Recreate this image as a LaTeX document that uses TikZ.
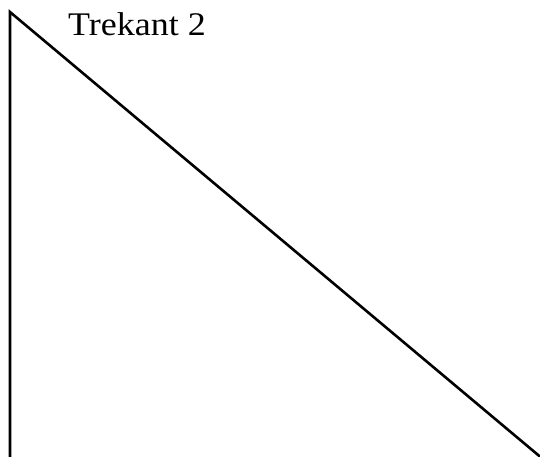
\documentclass[tikz,border=0pt]{standalone}
\usepackage{fontspec}
\setmainfont{Liberation Serif}
\begin{document}
\begin{tikzpicture}[x=1pt,y=-1pt,edge/.style={line width=2.6pt,line join=miter}]
\useasboundingbox (0,0) rectangle (540,456);
\begin{scope}
\clip (0,0) rectangle (540,456);
\coordinate (top) at (10,12);
\coordinate (bl) at (10,470);
\coordinate (br) at (556,470);
\draw[edge] (bl) -- (top) -- (br);
\end{scope}
\node[anchor=base west,inner sep=0pt,font=\fontsize{33}{38}\selectfont] (lbl) at (68,35) {\scalebox{1.09}[1]{Trekant 2}};
\end{tikzpicture}
\end{document}
